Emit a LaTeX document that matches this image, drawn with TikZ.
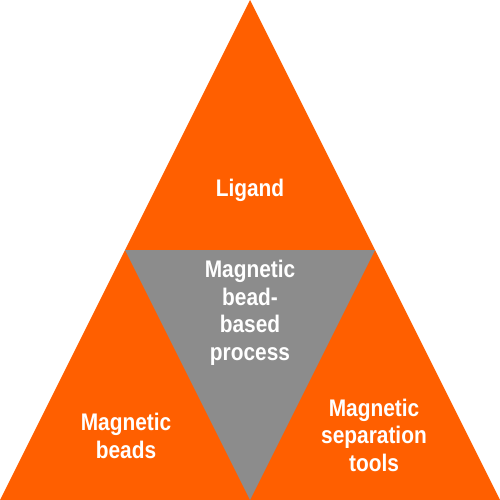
\documentclass[tikz,border=0pt]{standalone}
\usepackage{fontspec}
\setmainfont{Liberation Sans}
\definecolor{orangeA}{RGB}{255,95,0}
\definecolor{grayA}{RGB}{140,140,140}
\begin{document}
\begin{tikzpicture}[x=1pt,y=-1pt,
  lbl/.style={text=white,font=\fontsize{24}{27.5}\selectfont\bfseries,align=center,inner sep=0pt,xscale=0.87}]
\useasboundingbox (0,0) rectangle (500,500);
\fill[orangeA] (250,0) coordinate (apex) -- (0,500) coordinate (bl) -- (500,500) coordinate (br) -- cycle;
\fill[grayA] (125,250) coordinate (ml) -- (375,250) coordinate (mr) -- (250,500) coordinate (mb) -- cycle;
\node[lbl] (ligand) at (250,190) {Ligand};
\node[lbl] (process) at (250,313) {Magnetic\\bead-\\based\\process};
\node[lbl] (beads) at (126,436) {Magnetic\\beads};
\node[lbl] (tools) at (374,435) {Magnetic\\separation\\tools};
\end{tikzpicture}
\end{document}
